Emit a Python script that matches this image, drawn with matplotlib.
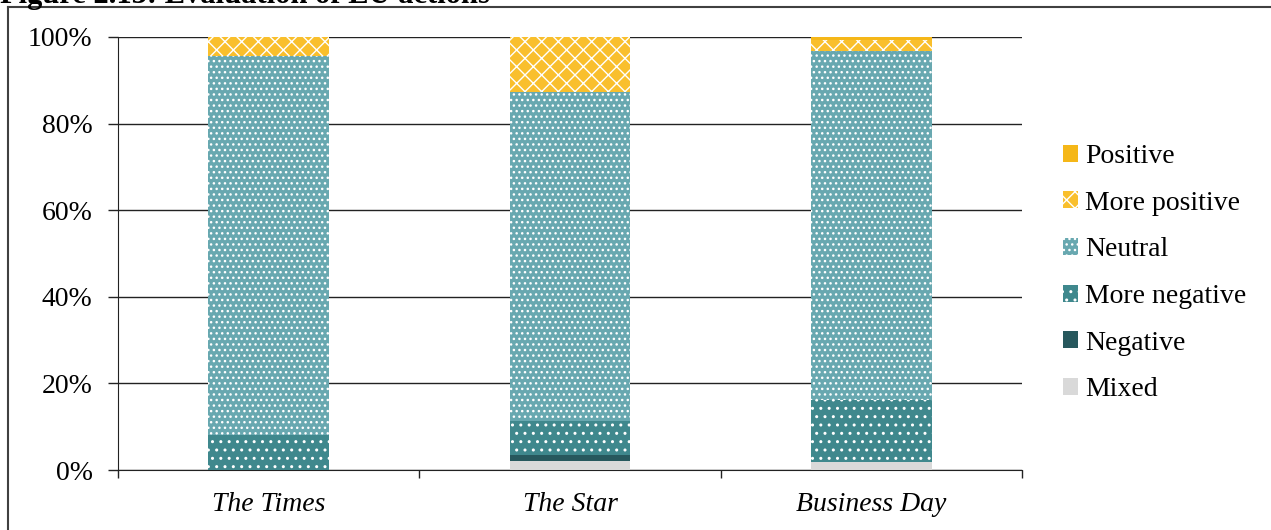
import numpy as np
import matplotlib.pyplot as plt
from matplotlib.lines import Line2D
from matplotlib.patches import Patch

# ── Data ──────────────────────────────────────────────────────────────────────
papers = ["The Times", "The Star", "Business Day"]
series = ["Mixed", "Negative", "More negative", "Neutral", "More positive", "Positive"]
mixed         = [0.0, 2.1, 1.8]
negative      = [0.0, 1.3, 0.0]
more_negative = [8.1, 7.9, 14.4]
neutral       = [87.6, 76.0, 80.6]
more_positive = [4.3, 12.7, 2.4]
positive      = [0.0, 0.0, 0.8]
values = [mixed, negative, more_negative, neutral, more_positive, positive]
yticks = [0, 20, 40, 60, 80, 100]

# ── Styles ────────────────────────────────────────────────────────────────────
colors  = ["#d9d9d9", "#27585d", "#3f888d", "#68a8b0", "#f9bf2c", "#f5b718"]
hatches = [None, None, "..", "...", "xx", None]

plt.rcParams["font.family"] = ["Liberation Serif", "DejaVu Serif"]
plt.rcParams["hatch.linewidth"] = 1.0

fig = plt.figure(figsize=(12.71, 5.30), dpi=100, facecolor="white")
ax = fig.add_axes([118 / 1271, 1 - 470 / 530, (1022 - 118) / 1271, (470 - 37) / 530])

x = np.arange(len(papers))
bottom = np.zeros(len(papers))
handles = []
for name, vals, c, h in zip(series, values, colors, hatches):
    vals = np.array(vals)
    ax.bar(x, vals, 0.4, bottom=bottom, color=c, hatch=h,
           edgecolor="white" if h else c, linewidth=0, zorder=3)
    bottom += vals
    handles.append(Patch(facecolor=c, hatch=h, edgecolor="white" if h else c,
                         linewidth=0, label=name))

# ── Axes ──────────────────────────────────────────────────────────────────────
ax.set_xlim(-0.5, 2.5)
ax.set_ylim(0, 100)
ax.set_yticks(yticks)
ax.set_yticklabels([f"{v}%" for v in yticks], fontsize=20)
ax.yaxis.grid(True, color="#222222", linewidth=1.0, zorder=0)
ax.set_axisbelow(True)
ax.tick_params(axis="y", length=7.2, width=1, color="#222222", pad=11)

ax.set_xticks([-0.5, 0.5, 1.5, 2.5])
ax.set_xticklabels([])
ax.tick_params(axis="x", length=5.8, width=1, color="#222222")
ax.set_xticks(x, minor=True)
ax.set_xticklabels(papers, minor=True, fontsize=20, style="italic")
ax.tick_params(axis="x", which="minor", length=0, pad=16)

for s in ["top", "right"]:
    ax.spines[s].set_visible(False)
ax.spines["left"].set_color("#222222")
ax.spines["bottom"].set_color("#222222")

# ── Legend ────────────────────────────────────────────────────────────────────
leg = fig.legend(handles[::-1], series[::-1], loc="upper left",
                 bbox_to_anchor=(1038 / 1271, 1 - 119 / 530), frameon=False,
                 fontsize=20, handlelength=0.55, handleheight=0.55,
                 handletextpad=0.25, labelspacing=0.78)

# ── Frame and clipped title ───────────────────────────────────────────────────
fig.add_artist(Line2D([8 / 1271, 8 / 1271], [0, 1 - 7 / 530], color="#404040",
                      linewidth=1.5, transform=fig.transFigure))
fig.add_artist(Line2D([8 / 1271, 1], [1 - 7 / 530, 1 - 7 / 530], color="#404040",
                      linewidth=1.5, transform=fig.transFigure))
fig.text(0.0, 1 - 3 / 530, "Figure 2.13: Evaluation of EU actions",
         fontsize=22, fontweight="bold", va="baseline", ha="left")

fig.savefig("out.png", dpi=100, facecolor="white")
